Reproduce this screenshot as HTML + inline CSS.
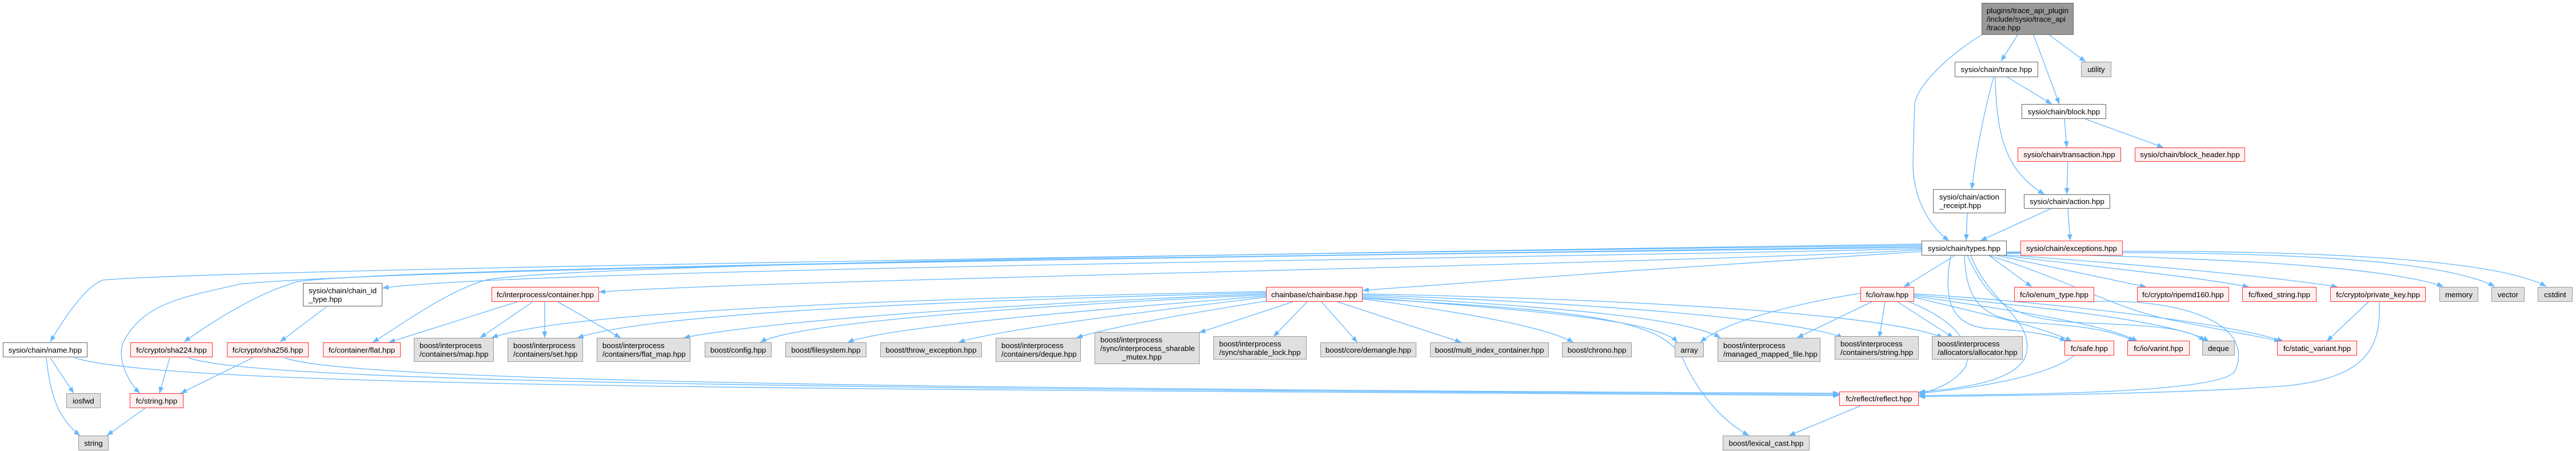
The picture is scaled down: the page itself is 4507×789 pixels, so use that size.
<!DOCTYPE html>
<html><head><meta charset="utf-8"><style>
html,body{margin:0;padding:0;background:#fff;}
body{width:4507px;height:789px;position:relative;overflow:hidden;font-family:"Liberation Sans",Arial,sans-serif;}
svg{position:absolute;left:0;top:0;}
.n{position:absolute;box-sizing:border-box;display:flex;flex-direction:column;justify-content:center;font-size:13.3px;line-height:15px;white-space:nowrap;color:#000;}
.w{background:#fff;border:1.5px solid #666;align-items:center;}
.r{background:#fff0f0;border:1.5px solid #f33;align-items:center;}
.g{background:#e0e0e0;border:1.5px solid #999;align-items:center;}
.rt{background:#999;border:1.5px solid #666;align-items:center;}
.l{align-items:flex-start;padding-left:9px;}
</style></head><body>
<svg width="4507" height="789" viewBox="0 0 4507 789">
<defs><marker id="a" markerUnits="userSpaceOnUse" viewBox="0 0 10 8" refX="10" refY="4" markerWidth="11" markerHeight="9" orient="auto"><path d="M0,0 L10,4 L0,8 z" fill="#63b8ff"/></marker></defs>
<g fill="none" stroke="#63b8ff" stroke-width="1.3" marker-end="url(#a)">
<path d="M3530,61 L3501,107"/>
<path d="M3558,61 L3603,182"/>
<path d="M3585,61 L3649,108"/>
<path d="M3467,61 C3420,90 3360,140 3350,180 L3347,280 C3345,350 3380,400 3410,421"/>
<path d="M3512,135 L3590,182"/>
<path d="M3488,135 C3470,200 3455,280 3450,331"/>
<path d="M3491,135 C3493,240 3510,300 3577,340"/>
<path d="M3612,208 L3616,258"/>
<path d="M3648,208 L3785,258"/>
<path d="M3618,283 L3616,340"/>
<path d="M3442,373 L3440,421"/>
<path d="M3588,365 L3465,421"/>
<path d="M3618,365 L3622,421"/>
<path d="M3362,429 C2500,440 400,470 180,490 C150,500 110,560 88,598"/>
<path d="M3362,431 C2500,445 700,465 520,493 C460,510 390,550 322,598"/>
<path d="M3362,433 C2000,450 700,470 420,497 C320,520 250,530 215,600 C205,630 225,670 245,688"/>
<path d="M3362,435 C2800,450 900,470 669,504"/>
<path d="M3362,427 C2500,440 1000,460 850,490 C780,510 700,570 652,599"/>
<path d="M3362,437 C3000,460 1300,490 1048,511"/>
<path d="M3362,440 C3200,450 2600,490 2384,508"/>
<path d="M3420,447 L3331,502"/>
<path d="M3480,447 L3555,502"/>
<path d="M3494,447 C3600,470 3700,490 3755,502"/>
<path d="M3505,447 C3650,465 3850,485 3935,502"/>
<path d="M3511,446 C3700,460 3950,480 4090,502"/>
<path d="M3511,443 C3800,450 4150,460 4275,501"/>
<path d="M3511,442 C3900,440 4250,445 4365,501"/>
<path d="M3511,441 C3950,435 4350,445 4455,501"/>
<path d="M3413,447 C3400,520 3410,570 3480,575 C3540,578 3590,585 3615,597"/>
<path d="M3437,447 C3440,530 3470,560 3560,565 C3650,570 3700,580 3735,597"/>
<path d="M3442,447 C3480,530 3520,560 3650,565 C3780,570 3830,575 3858,597"/>
<path d="M3480,447 C3620,490 3700,540 3800,560 C3900,580 3960,590 3990,597"/>
<path d="M3448,447 C3480,530 3560,560 3545,620 C3530,670 3420,680 3357,686"/>
<path d="M2215,510 C1700,520 1000,540 860,591"/>
<path d="M2215,512 C1700,525 1150,545 1010,591"/>
<path d="M2215,514 C1800,530 1350,560 1196,591"/>
<path d="M2215,516 C1900,530 1400,560 1330,599"/>
<path d="M2215,518 C2000,535 1550,570 1483,599"/>
<path d="M2215,520 C2050,540 1750,575 1677,599"/>
<path d="M2220,526 C2100,545 1950,570 1883,591"/>
<path d="M2262,528 L2098,582"/>
<path d="M2287,528 L2228,589"/>
<path d="M2312,528 L2375,599"/>
<path d="M2340,528 L2557,599"/>
<path d="M2384,523 C2550,545 2700,570 2753,599"/>
<path d="M2384,520 C2700,545 2900,560 2935,599"/>
<path d="M2384,518 C2700,535 2950,555 3010,591"/>
<path d="M2384,516 C2800,530 3150,560 3225,591"/>
<path d="M2384,514 C2900,525 3300,550 3400,591"/>
<path d="M2384,522 C2800,545 2920,560 2950,640 C2980,700 3020,740 3060,762"/>
<path d="M905,528 L680,599"/>
<path d="M932,528 L840,591"/>
<path d="M953,528 L953,591"/>
<path d="M976,528 L1086,591"/>
<path d="M572,536 L490,598"/>
<path d="M297,626 L279,688"/>
<path d="M442,626 L316,688"/>
<path d="M254,714 L187,762"/>
<path d="M88,626 L129,688"/>
<path d="M81,626 C88,690 100,730 140,762"/>
<path d="M131,626 C300,680 1500,680 3218,692"/>
<path d="M330,626 C450,670 1500,680 3218,690"/>
<path d="M498,626 C600,665 1500,680 3218,688"/>
<path d="M3255,513 C3150,530 3020,560 2975,599"/>
<path d="M3275,528 L3144,591"/>
<path d="M3298,528 L3288,591"/>
<path d="M3320,528 L3418,591"/>
<path d="M3349,520 C3450,545 3570,570 3625,597"/>
<path d="M3349,518 C3500,540 3680,565 3740,597"/>
<path d="M3349,516 C3550,535 3800,560 3865,597"/>
<path d="M3349,514 C3600,530 3900,565 3995,597"/>
<path d="M3340,528 C3420,560 3450,600 3440,640 C3420,670 3390,680 3357,690"/>
<path d="M3653,528 C3800,520 3950,560 3910,650 C3880,690 3500,690 3357,692"/>
<path d="M4144,528 L4071,597"/>
<path d="M4163,528 C4165,600 4150,660 4000,675 C3800,690 3500,692 3357,694"/>
<path d="M3629,622 C3580,660 3450,680 3357,688"/>
<path d="M3255,710 L3130,762"/>
</g>
</svg>
<div class="n rt" style="left:3467px;top:5px;width:161px;height:56px">plugins/trace_api_plugin<br>/include/sysio/trace_api<br>/trace.hpp</div>
<div class="n w" style="left:3420px;top:108px;width:146px;height:27px">sysio/chain/trace.hpp</div>
<div class="n g" style="left:3641px;top:108px;width:53px;height:27px">utility</div>
<div class="n w" style="left:3537px;top:182px;width:148px;height:26px">sysio/chain/block.hpp</div>
<div class="n r" style="left:3530px;top:258px;width:181px;height:25px">sysio/chain/transaction.hpp</div>
<div class="n r" style="left:3735px;top:258px;width:193px;height:25px">sysio/chain/block_header.hpp</div>
<div class="n w" style="left:3382px;top:331px;width:127px;height:42px">sysio/chain/action<br>_receipt.hpp</div>
<div class="n w" style="left:3541px;top:340px;width:151px;height:25px">sysio/chain/action.hpp</div>
<div class="n w" style="left:3362px;top:421px;width:149px;height:26px">sysio/chain/types.hpp</div>
<div class="n r" style="left:3535px;top:421px;width:179px;height:26px">sysio/chain/exceptions.hpp</div>
<div class="n w" style="left:530px;top:495px;width:139px;height:41px">sysio/chain/chain_id<br>_type.hpp</div>
<div class="n r" style="left:860px;top:502px;width:188px;height:26px">fc/interprocess/container.hpp</div>
<div class="n r" style="left:2215px;top:502px;width:169px;height:26px">chainbase/chainbase.hpp</div>
<div class="n r" style="left:3255px;top:502px;width:94px;height:26px">fc/io/raw.hpp</div>
<div class="n r" style="left:3524px;top:502px;width:140px;height:26px">fc/io/enum_type.hpp</div>
<div class="n r" style="left:3739px;top:502px;width:161px;height:26px">fc/crypto/ripemd160.hpp</div>
<div class="n r" style="left:3923px;top:502px;width:130px;height:26px">fc/fixed_string.hpp</div>
<div class="n r" style="left:4077px;top:502px;width:167px;height:26px">fc/crypto/private_key.hpp</div>
<div class="n g" style="left:4268px;top:502px;width:68px;height:26px">memory</div>
<div class="n g" style="left:4359px;top:502px;width:58px;height:26px">vector</div>
<div class="n g" style="left:4440px;top:502px;width:61px;height:26px">cstdint</div>
<div class="n w" style="left:5px;top:599px;width:148px;height:26px">sysio/chain/name.hpp</div>
<div class="n r" style="left:228px;top:599px;width:144px;height:26px">fc/crypto/sha224.hpp</div>
<div class="n r" style="left:397px;top:599px;width:143px;height:26px">fc/crypto/sha256.hpp</div>
<div class="n r" style="left:565px;top:599px;width:136px;height:26px">fc/container/flat.hpp</div>
<div class="n g l" style="left:724px;top:591px;width:140px;height:42px">boost/interprocess<br>/containers/map.hpp</div>
<div class="n g l" style="left:888px;top:591px;width:132px;height:42px">boost/interprocess<br>/containers/set.hpp</div>
<div class="n g l" style="left:1044px;top:591px;width:164px;height:42px">boost/interprocess<br>/containers/flat_map.hpp</div>
<div class="n g" style="left:1233px;top:599px;width:117px;height:26px">boost/config.hpp</div>
<div class="n g" style="left:1374px;top:599px;width:142px;height:26px">boost/filesystem.hpp</div>
<div class="n g" style="left:1540px;top:599px;width:178px;height:26px">boost/throw_exception.hpp</div>
<div class="n g l" style="left:1742px;top:591px;width:149px;height:42px">boost/interprocess<br>/containers/deque.hpp</div>
<div class="n g l" style="left:1915px;top:581px;width:184px;height:56px">boost/interprocess<br>/sync/interprocess_sharable<br><span style="padding-left:38px">_mutex.hpp</span></div>
<div class="n g l" style="left:2123px;top:588px;width:163px;height:41px">boost/interprocess<br>/sync/sharable_lock.hpp</div>
<div class="n g" style="left:2310px;top:599px;width:168px;height:26px">boost/core/demangle.hpp</div>
<div class="n g" style="left:2502px;top:599px;width:208px;height:26px">boost/multi_index_container.hpp</div>
<div class="n g" style="left:2733px;top:599px;width:122px;height:26px">boost/chrono.hpp</div>
<div class="n g" style="left:2930px;top:599px;width:51px;height:26px">array</div>
<div class="n g l" style="left:3005px;top:591px;width:180px;height:42px">boost/interprocess<br>/managed_mapped_file.hpp</div>
<div class="n g l" style="left:3210px;top:588px;width:147px;height:41px">boost/interprocess<br>/containers/string.hpp</div>
<div class="n g l" style="left:3380px;top:588px;width:159px;height:41px">boost/interprocess<br>/allocators/allocator.hpp</div>
<div class="n r" style="left:3612px;top:596px;width:87px;height:26px">fc/safe.hpp</div>
<div class="n r" style="left:3722px;top:596px;width:109px;height:26px">fc/io/varint.hpp</div>
<div class="n g" style="left:3853px;top:596px;width:57px;height:26px">deque</div>
<div class="n r" style="left:3984px;top:596px;width:140px;height:26px">fc/static_variant.hpp</div>
<div class="n g" style="left:116px;top:688px;width:60px;height:26px">iosfwd</div>
<div class="n r" style="left:227px;top:688px;width:94px;height:26px">fc/string.hpp</div>
<div class="n r" style="left:3218px;top:685px;width:139px;height:25px">fc/reflect/reflect.hpp</div>
<div class="n g" style="left:137px;top:762px;width:53px;height:26px">string</div>
<div class="n g" style="left:3014px;top:762px;width:152px;height:26px">boost/lexical_cast.hpp</div>
</body></html>
